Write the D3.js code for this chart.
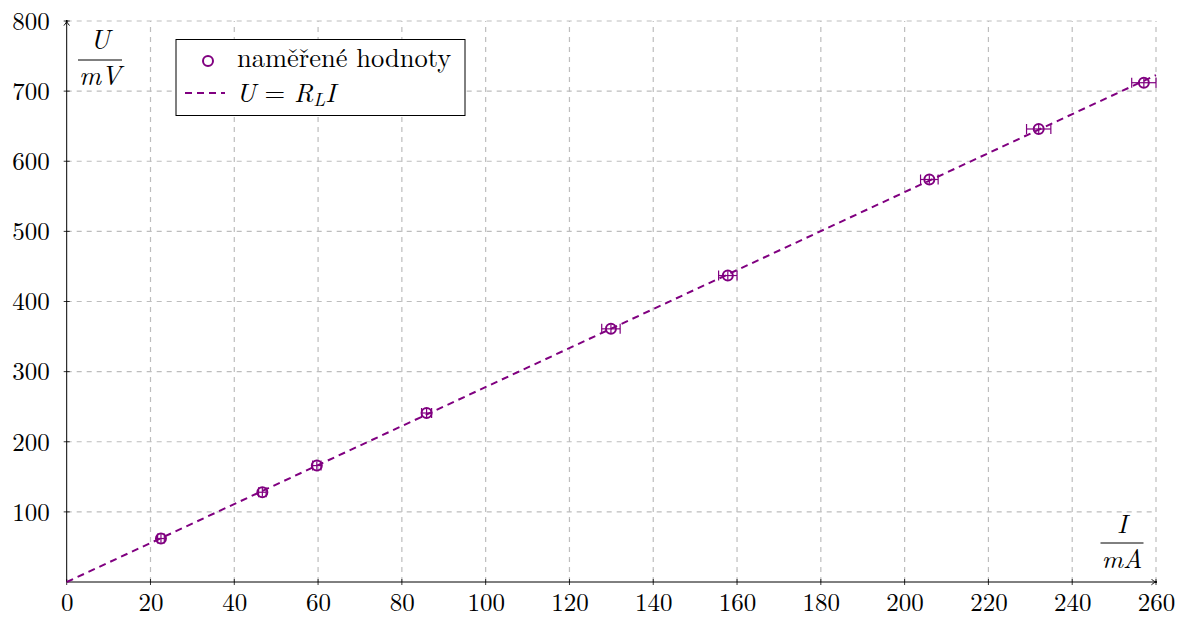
<!DOCTYPE html>
<html>
<head>
<meta charset="utf-8">
<script src="https://cdn.jsdelivr.net/npm/d3@7"></script>
<style>
  body { margin: 0; background: #fff; }
</style>
</head>
<body>
<svg id="chart" width="1179" height="617"></svg>
<script>
// measured values (I in mA, U in mV) with their uncertainties
var current = [22.5, 46.7, 59.7, 85.9, 129.9, 157.8, 205.9, 232.0, 257.1];
var voltage = [62, 128, 166, 241, 361, 437, 574, 646, 712];
var currentErr = [0.8, 0.9, 1.0, 1.2, 2.2, 2.2, 2.1, 2.9, 2.9];
var voltageErr = [6, 6, 6, 6, 6, 6, 6, 6, 6];

// fitted line U = R_L * I
var resistance = 2.78;
var fitRange = [0, 260];

var xTicks = [0, 20, 40, 60, 80, 100, 120, 140, 160, 180, 200, 220, 240, 260];
var yTicks = [100, 200, 300, 400, 500, 600, 700, 800];

var legendLabels = ["naměřené hodnoty", "U = R_L I"];

(function () {
    var svg = d3.select("#chart");
    var purple = "#800080";
    var gridColor = "#bdbdbd";
    var font = "'Latin Modern Roman', 'Liberation Serif', serif";

    var x = d3.scaleLinear().domain([0, 260]).range([66.7, 1156]);
    var y = d3.scaleLinear().domain([0, 800]).range([582, 21]);

    var defs = svg.append("defs");
    defs.append("marker")
        .attr("id", "arrow")
        .attr("viewBox", "0 0 10 10")
        .attr("refX", 9).attr("refY", 5)
        .attr("markerWidth", 7).attr("markerHeight", 7)
        .attr("markerUnits", "userSpaceOnUse")
        .attr("orient", "auto")
        .append("path")
        .attr("d", "M1,1 Q5,5 9,5 Q5,5 1,9")
        .attr("fill", "none")
        .attr("stroke", "#000")
        .attr("stroke-width", 1.3);

    // grid
    var grid = svg.append("g");
    grid.selectAll("line.vx")
        .data(xTicks.filter(function (d) { return d > 0; }))
        .enter().append("line")
        .attr("x1", function (d) { return x(d); })
        .attr("x2", function (d) { return x(d); })
        .attr("y1", y(0)).attr("y2", y(800))
        .attr("stroke", gridColor)
        .attr("stroke-width", 1.2)
        .attr("stroke-dasharray", "5,5");
    grid.selectAll("line.hy")
        .data(yTicks)
        .enter().append("line")
        .attr("y1", function (d) { return y(d); })
        .attr("y2", function (d) { return y(d); })
        .attr("x1", x(0)).attr("x2", x(260))
        .attr("stroke", gridColor)
        .attr("stroke-width", 1.2)
        .attr("stroke-dasharray", "5,5");

    // axes
    var xAxis = d3.axisBottom(x).tickValues(xTicks).tickSize(0).tickPadding(0);
    var yAxis = d3.axisLeft(y).tickValues(yTicks).tickSize(0).tickPadding(17);

    var gx = svg.append("g").attr("transform", "translate(0," + y(0) + ")").call(xAxis);
    gx.select(".domain").remove();
    gx.attr("font-family", null).attr("font-size", null);
    gx.selectAll("text").attr("dy", null).attr("y", 29)
        .style("font-size", "25px").style("font-family", font).attr("fill", "#000");

    var gy = svg.append("g").attr("transform", "translate(" + x(0) + ",0)").call(yAxis);
    gy.select(".domain").remove();
    gy.attr("font-family", null).attr("font-size", null);
    gy.selectAll("text").attr("dy", "0.33em")
        .style("font-size", "25px").style("font-family", font).attr("fill", "#000");

    // small tick marks
    svg.append("g").selectAll("line")
        .data(xTicks).enter().append("line")
        .attr("x1", function (d) { return x(d); }).attr("x2", function (d) { return x(d); })
        .attr("y1", y(0) - 3).attr("y2", y(0) + 3)
        .attr("stroke", "#000").attr("stroke-width", 0.8);
    svg.append("g").selectAll("line")
        .data(yTicks).enter().append("line")
        .attr("y1", function (d) { return y(d); }).attr("y2", function (d) { return y(d); })
        .attr("x1", x(0) - 3).attr("x2", x(0) + 3)
        .attr("stroke", "#000").attr("stroke-width", 0.8);

    svg.append("line")
        .attr("x1", x(0)).attr("x2", x(260) + 1)
        .attr("y1", y(0)).attr("y2", y(0))
        .attr("stroke", "#000").attr("stroke-width", 1)
        .attr("marker-end", "url(#arrow)");
    svg.append("line")
        .attr("x1", x(0)).attr("x2", x(0))
        .attr("y1", y(0)).attr("y2", y(800) - 1)
        .attr("stroke", "#000").attr("stroke-width", 1)
        .attr("marker-end", "url(#arrow)");

    // fitted line
    svg.append("line")
        .attr("x1", x(fitRange[0])).attr("y1", y(resistance * fitRange[0]))
        .attr("x2", x(fitRange[1])).attr("y2", y(resistance * fitRange[1]))
        .attr("stroke", purple)
        .attr("stroke-width", 2)
        .attr("stroke-dasharray", "7,5");

    // points with error bars
    var pts = current.map(function (c, i) {
        return { i: c, u: voltage[i], di: currentErr[i], du: voltageErr[i] };
    });
    var pg = svg.append("g").attr("stroke", purple).attr("fill", "none");
    pts.forEach(function (p) {
        var cx = x(p.i), cy = y(p.u);
        var x1 = x(p.i - p.di), x2 = x(p.i + p.di);
        var y1 = y(p.u - p.du), y2 = y(p.u + p.du);
        pg.append("line").attr("x1", x1).attr("x2", x2).attr("y1", cy).attr("y2", cy).attr("stroke-width", 1.2);
        pg.append("line").attr("x1", x1).attr("x2", x1).attr("y1", cy - 5).attr("y2", cy + 5).attr("stroke-width", 1.2);
        pg.append("line").attr("x1", x2).attr("x2", x2).attr("y1", cy - 5).attr("y2", cy + 5).attr("stroke-width", 1.2);
        pg.append("line").attr("x1", cx).attr("x2", cx).attr("y1", y1).attr("y2", y2).attr("stroke-width", 1.2);
        pg.append("circle").attr("cx", cx).attr("cy", cy).attr("r", 5).attr("stroke-width", 2);
    });

    function txt(xp, yp, size) {
        return svg.append("text").attr("x", xp).attr("y", yp)
            .style("font-family", font).style("font-size", size + "px").attr("fill", "#000");
    }

    // axis labels as fractions
    function fraction(cx, numBase, barY, denBase, w, size, num, den) {
        txt(cx, numBase, size).attr("text-anchor", "middle").style("font-style", "italic").text(num);
        svg.append("line").attr("x1", cx - w / 2).attr("x2", cx + w / 2)
            .attr("y1", barY).attr("y2", barY)
            .attr("stroke", "#000").attr("stroke-width", 1);
        txt(cx, denBase, size).attr("text-anchor", "middle").style("font-style", "italic").text(den);
    }
    fraction(100, 49, 60, 85, 44, 27, "U", "mV");
    fraction(1122, 533, 543, 568, 43, 26, "I", "mA");

    // legend
    var lg = svg.append("g");
    lg.append("rect").attr("x", 176).attr("y", 39.5).attr("width", 289).attr("height", 76)
        .attr("fill", "#fff").attr("stroke", "#000").attr("stroke-width", 1);
    lg.append("circle").attr("cx", 208).attr("cy", 61).attr("r", 5)
        .attr("fill", "none").attr("stroke", purple).attr("stroke-width", 2);
    txt(237, 67, 26.5).text(legendLabels[0]);
    lg.append("line").attr("x1", 185).attr("x2", 225).attr("y1", 93).attr("y2", 93)
        .attr("stroke", purple).attr("stroke-width", 2).attr("stroke-dasharray", "7,5");
    var eq = txt(236, 102, 26.5);
    eq.append("tspan").style("font-style", "italic").text("U");
    eq.append("tspan").text(" = ");
    eq.append("tspan").style("font-style", "italic").text("R");
    eq.append("tspan").style("font-style", "italic").attr("dy", 4).style("font-size", "19px").text("L");
    eq.append("tspan").style("font-style", "italic").attr("dy", -4).text("I");
})();
</script>
</body>
</html>
